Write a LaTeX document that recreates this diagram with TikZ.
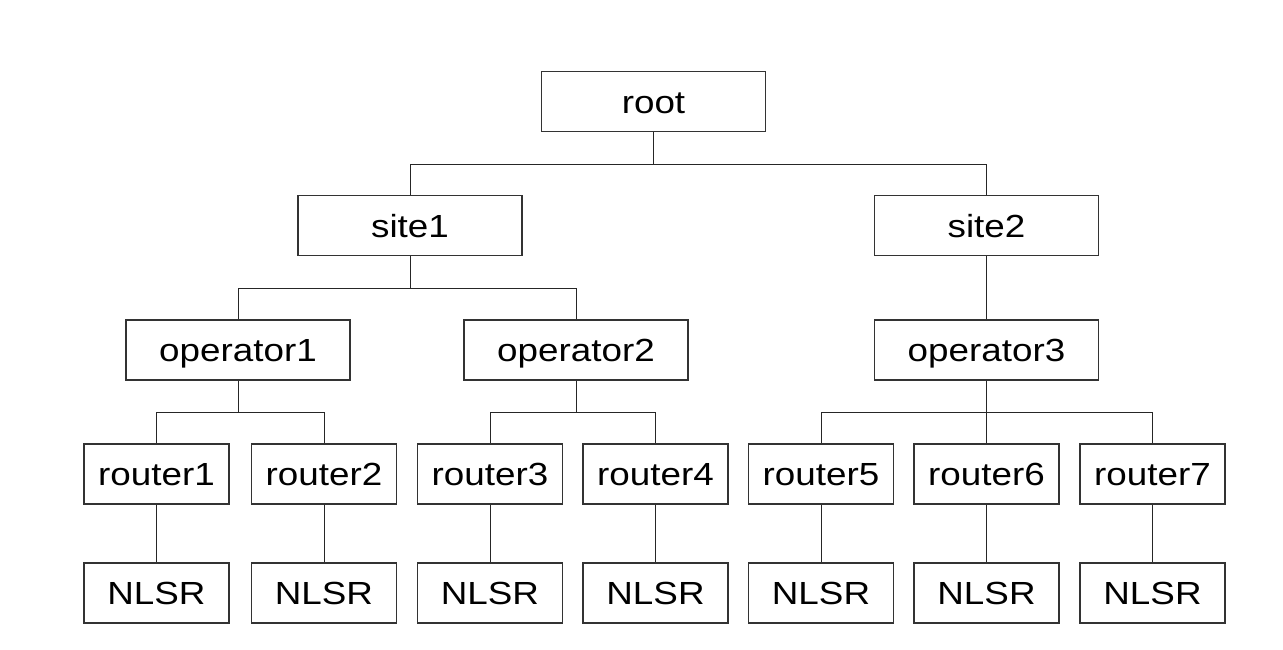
\documentclass[tikz,border=0pt]{standalone}
\usepackage{fontspec}
\setmainfont{Liberation Sans}[FakeStretch=1.15]
\begin{document}
\begin{tikzpicture}[x=1pt,y=-1pt,
  box/.style={draw=black!80, line width=1.1pt, minimum height=60pt, inner sep=0pt, fill=white,
    text height=23pt, text depth=0pt,
    font=\fontsize{32}{38}\selectfont},
  wbox/.style={box, minimum width=224pt},
  rbox/.style={box, minimum width=145pt},
  link/.style={draw=black!85, line width=1pt}]
\useasboundingbox (0,0) rectangle (1283,649);
\node[wbox] (root) at (653.5,101.5) {root};
\node[wbox] (site1) at (410,225.5) {site1};
\node[wbox] (site2) at (986.5,225.5) {site2};
\node[wbox] (op1) at (238,350) {operator1};
\node[wbox] (op2) at (576,350) {operator2};
\node[wbox] (op3) at (986.5,350) {operator3};
\foreach \i/\x in {1/156.5,2/324,3/490,4/655.5,5/821,6/986.5,7/1152.5}{
  \node[rbox] (r\i) at (\x,474) {router\i};
  \node[rbox] (n\i) at (\x,593) {NLSR};
  \draw[link] (r\i) -- (n\i);
}
\draw[link] (root.south) -- ++(0,32) -| (site1.north);
\draw[link] (root.south) ++(0,32) -| (site2.north);
\draw[link] (site1.south) -- ++(0,32) -| (op1.north);
\draw[link] (site1.south) ++(0,32) -| (op2.north);
\draw[link] (site2.south) -- (op3.north);
\draw[link] (op1.south) -- ++(0,32) -| (r1.north);
\draw[link] (op1.south) ++(0,32) -| (r2.north);
\draw[link] (op2.south) -- ++(0,32) -| (r3.north);
\draw[link] (op2.south) ++(0,32) -| (r4.north);
\draw[link] (op3.south) -- ++(0,32) -| (r5.north);
\draw[link] (op3.south) ++(0,32) -| (r7.north);
\draw[link] (op3.south) -- (r6.north);
\end{tikzpicture}
\end{document}
